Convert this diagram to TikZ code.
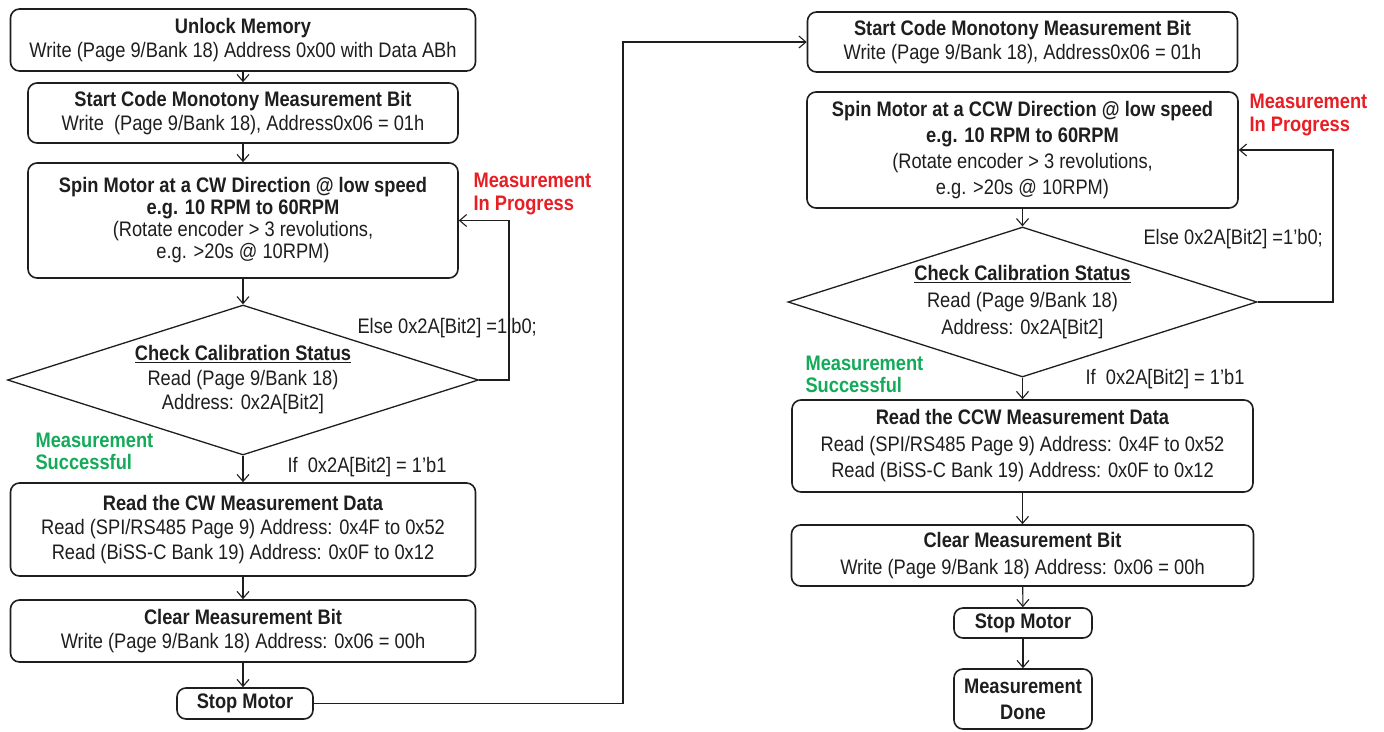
\documentclass[tikz,border=0pt]{standalone}
\usepackage{fontspec}
\setmainfont{Liberation Sans}[FakeStretch=0.87]
\usetikzlibrary{arrows.meta,shapes.geometric}
\definecolor{inkc}{RGB}{30,30,30}
\definecolor{progred}{RGB}{232,30,36}
\definecolor{okgreen}{RGB}{20,170,90}
\tikzset{
  proc/.style={draw=inkc, rounded corners=9pt, line width=1.6pt, align=center,
    inner sep=0pt, text=inkc},
  decide/.style={draw=inkc, diamond, aspect=3.14, line width=1.3pt, align=center,
    inner sep=0pt, text=inkc},
  flow/.style={draw=inkc, line width=1.1pt, -{Straight Barb[length=7pt,width=12pt]}},
  redlbl/.style={align=left, anchor=west, text=progred, font=\bfseries\fontsize{21}{23}\selectfont},
  greenlbl/.style={align=left, anchor=west, text=okgreen, font=\bfseries\fontsize{21}{22}\selectfont},
  cond/.style={anchor=west, text=inkc},
}
\begin{document}
\begin{tikzpicture}[x=1pt, y=-1pt, font=\fontsize{21}{24.5}\selectfont]
\useasboundingbox (0,0) rectangle (1384,731);
\fill[white] (0,0) rectangle (1384,731);

% clockwise pass
\node[proc, minimum width=465pt, minimum height=62pt] (b1) at (243,40)
  {\textbf{Unlock Memory}\\Write (Page 9/Bank 18) Address 0x00 with Data ABh};
\node[proc, minimum width=430pt, minimum height=60pt] (b2) at (243,113)
  {\textbf{Start Code Monotony Measurement Bit}\\Write~ (Page 9/Bank 18), Address0x06 = 01h};
\node[proc, minimum width=430pt, minimum height=115pt, font=\fontsize{21}{22}\selectfont] (b3) at (243,220.5)
  {\textbf{Spin Motor at a CW Direction @ low speed}\\\textbf{e.g. 10 RPM to 60RPM}\\(Rotate encoder > 3 revolutions,\\e.g. >20s @ 10RPM)};
\node[decide, minimum width=471pt, minimum height=150pt] (d1) at (243,380)
  {\underline{\textbf{Check Calibration Status}}\\Read (Page 9/Bank 18)\\Address: 0x2A[Bit2]};
\node[proc, minimum width=465pt, minimum height=93pt] (b4) at (243,529.5)
  {\textbf{Read the CW Measurement Data}\\Read (SPI/RS485 Page 9) Address: 0x4F to 0x52\\Read (BiSS-C Bank 19) Address: 0x0F to 0x12};
\node[proc, minimum width=465pt, minimum height=62pt] (b5) at (243,631)
  {\textbf{Clear Measurement Bit}\\Write (Page 9/Bank 18) Address: 0x06 = 00h};
\node[proc, minimum width=136pt, minimum height=31pt] (b6) at (245,703.5)
  {\textbf{Stop Motor}};

% counter-clockwise pass
\node[proc, minimum width=430pt, minimum height=60pt] (r1) at (1022.5,42)
  {\textbf{Start Code Monotony Measurement Bit}\\Write (Page 9/Bank 18), Address0x06 = 01h};
\node[proc, minimum width=431pt, minimum height=116pt, font=\fontsize{21}{26}\selectfont] (r2) at (1022.5,150)
  {\textbf{Spin Motor at a CCW Direction @ low speed}\\\textbf{e.g. 10 RPM to 60RPM}\\(Rotate encoder > 3 revolutions,\\e.g. >20s @ 10RPM)};
\node[decide, minimum width=469pt, minimum height=150pt, font=\fontsize{21}{27}\selectfont] (d2) at (1022.5,302)
  {\underline{\textbf{Check Calibration Status}}\\Read (Page 9/Bank 18)\\Address: 0x2A[Bit2]};
\node[proc, minimum width=461pt, minimum height=92pt, font=\fontsize{21}{26.5}\selectfont] (r4) at (1022.5,446)
  {\textbf{Read the CCW Measurement Data}\\Read (SPI/RS485 Page 9) Address: 0x4F to 0x52\\Read (BiSS-C Bank 19) Address: 0x0F to 0x12};
\node[proc, minimum width=462pt, minimum height=61pt, font=\fontsize{21}{27}\selectfont] (r5) at (1022.5,555.5)
  {\textbf{Clear Measurement Bit}\\Write (Page 9/Bank 18) Address: 0x06 = 00h};
\node[proc, minimum width=138pt, minimum height=30pt] (r6) at (1023,623)
  {\textbf{Stop Motor}};
\node[proc, minimum width=138pt, minimum height=60pt, font=\fontsize{21}{26}\selectfont] (r7) at (1023,699)
  {\textbf{Measurement}\\\textbf{Done}};

% status and condition labels
\node[redlbl] (ipL) at (470,193.5) {Measurement\\In Progress};
\node[redlbl] (ipR) at (1246,114.5) {Measurement\\In Progress};
\node[greenlbl] (okL) at (32,451) {Measurement\\Successful};
\node[greenlbl] (okR) at (802,374) {Measurement\\Successful};
\node[cond] (elL) at (354,328) {Else 0x2A[Bit2] =1'b0;};
\node[cond] (elR) at (1140,239) {Else 0x2A[Bit2] =1'b0;};
\node[cond] (ifL) at (284,467) {If~ 0x2A[Bit2] = 1'b1};
\node[cond] (ifR) at (1082,379) {If~ 0x2A[Bit2] = 1'b1};

% bend points of the return and hand-over lines
\coordinate (lpL) at (509,220.5);
\coordinate (lpR) at (1333,150);
\coordinate (jmp) at (623,42);

% connectors
\draw[flow] (b1) -- (b2);
\draw[flow] (b2) -- (b3);
\draw[flow] (b3) -- (d1);
\draw[flow] (d1) -- (b4);
\draw[flow] (b4) -- (b5);
\draw[flow] (b5.south) -- (b5.south |- b6.north);
\draw[flow] (d1.east) -| (lpL) -- (b3.east);
\draw[flow] (b6.east) -| (jmp) -- (r1.west);

\draw[flow] (r2) -- (d2);
\draw[flow] (d2) -- (r4);
\draw[flow] (r4) -- (r5);
\draw[flow] (r5) -- (r6);
\draw[flow] (r6) -- (r7);
\draw[flow] (d2.east) -| (lpR) -- (r2.east);
\end{tikzpicture}
\end{document}
